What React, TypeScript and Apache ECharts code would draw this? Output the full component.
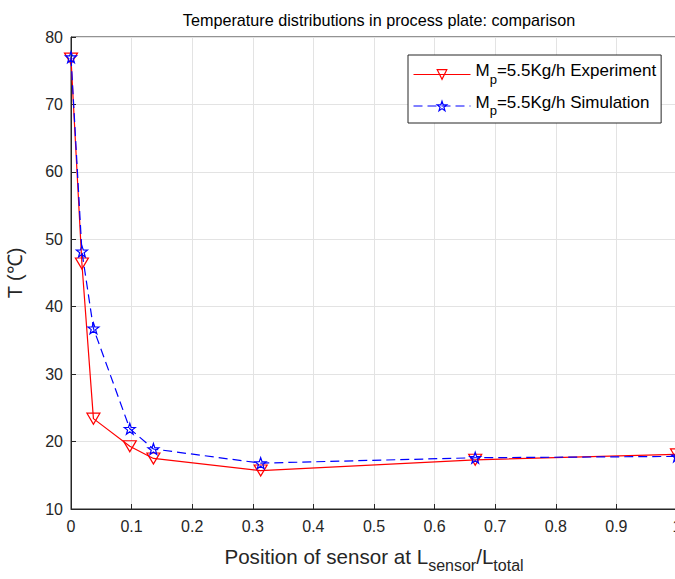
import React, { useEffect, useRef } from "react";
import * as echarts from "echarts";

const positions = [0, 0.018, 0.037, 0.097, 0.136, 0.313, 0.667, 1];
const experiment = [76.8, 46.4, 23.4, 19.3, 17.5, 15.7, 17.3, 18.1];
const simulation = [77.0, 48.2, 36.8, 21.9, 18.9, 16.8, 17.6, 17.8];
const seriesNames = ["Experiment", "Simulation"];
const titleText = "Temperature distributions in process plate: comparison";

const STAR =
  "path://M0,-10L2.35,-3.24L9.51,-3.09L3.8,1.24L5.88,8.09L0,4L-5.88,8.09L-3.8,1.24L-9.51,-3.09L-2.35,-3.24Z";

const FONT = "Liberation Sans, Arial, Helvetica, sans-serif";
const AX = "#262626";
const HOLLOW = "rgba(255,255,255,0)";

export default function App() {
  const ref = useRef<HTMLDivElement>(null);
  useEffect(() => {
    if (!ref.current) return;
    const chart = echarts.init(ref.current, undefined, { renderer: "svg" });
    const expData = positions.map((x, i) => [x, experiment[i]]);
    const simData = positions.map((x, i) => [x, simulation[i]]);
    chart.setOption({
      animation: false,
      backgroundColor: "#fff",
      textStyle: { fontFamily: FONT },
      title: {
        text: titleText,
        left: 374,
        textAlign: "center",
        top: 7,
        textStyle: { fontFamily: FONT, fontSize: 16.2, fontWeight: "normal", color: "#000" },
      },
      grid: {
        left: 71,
        top: 37,
        right: 13,
        bottom: 70,
        show: true,
        borderColor: AX,
        borderWidth: 1,
        backgroundColor: "transparent",
        containLabel: false,
        outerBoundsMode: "none",
      },
      legend: {
        orient: "vertical",
        left: 408,
        top: 55,
        backgroundColor: "#fff",
        borderColor: AX,
        borderWidth: 1,
        borderRadius: 0,
        padding: [7, 5, 6, 5],
        itemWidth: 57,
        itemHeight: 12,
        itemGap: 8,
        data: [
          {
            name: seriesNames[0],
            itemStyle: { color: HOLLOW, borderColor: "#ff0000", borderWidth: 1.2 },
            lineStyle: { color: "#ff0000", width: 1 },
          },
          {
            name: seriesNames[1],
            itemStyle: { color: HOLLOW, borderColor: "#0000ff", borderWidth: 1.2 },
            lineStyle: { color: "#0000ff", width: 1, type: [9, 5] },
          },
        ],
        formatter: (name: string) => `{a|M}{s|p}{a|=5.5Kg/h ${name}}`,
        textStyle: {
          fontFamily: FONT,
          color: "#000",
          rich: {
            a: { fontSize: 17, fontFamily: FONT, color: "#000", padding: [0, 0, 8, 0] },
            s: { fontSize: 13, fontFamily: FONT, color: "#000", padding: [9, 0, 0, 0] },
          },
        },
      },
      xAxis: {
        type: "value",
        min: 0,
        max: 1,
        interval: 0.1,
        name: "{a|Position of sensor at L}{s|sensor}{a|/L}{s|total}",
        nameLocation: "middle",
        nameGap: 37,
        nameTextStyle: {
          rich: {
            a: { fontSize: 20.6, fontFamily: FONT, color: AX, padding: [0, 0, 8, 0] },
            s: { fontSize: 16, fontFamily: FONT, color: AX, padding: [10, 0, 0, 0] },
          },
        },
        axisLine: { show: true, lineStyle: { color: AX, width: 1 } },
        axisTick: { show: true, inside: true, length: 5, lineStyle: { color: AX } },
        axisLabel: {
          color: AX,
          fontSize: 16,
          fontFamily: FONT,
          margin: 9,
          formatter: (v: number) => String(parseFloat(v.toFixed(1))),
        },
        splitLine: { show: true, lineStyle: { color: "#e3e3e3", width: 1 } },
      },
      yAxis: {
        type: "value",
        min: 10,
        max: 80,
        interval: 10,
        name: "T (℃)",
        nameLocation: "middle",
        nameGap: 46,
        nameTextStyle: { fontSize: 20, fontFamily: FONT, color: AX },
        axisLine: { show: true, lineStyle: { color: AX, width: 1 } },
        axisTick: { show: true, inside: true, length: 5, lineStyle: { color: AX } },
        axisLabel: { color: AX, fontSize: 16, fontFamily: FONT, margin: 8 },
        splitLine: { show: true, lineStyle: { color: "#e3e3e3", width: 1 } },
      },
      series: [
        {
          name: seriesNames[0],
          type: "line",
          data: expData,
          symbol: "triangle",
          symbolRotate: 180,
          symbolSize: [13, 11],
          showAllSymbol: true,
          clip: false,
          lineStyle: { color: "#ff0000", width: 1.2 },
          itemStyle: { color: HOLLOW, borderColor: "#ff0000", borderWidth: 1.2, opacity: 1 },
          z: 2,
        },
        {
          name: seriesNames[1],
          type: "line",
          data: simData,
          symbol: STAR,
          symbolSize: 11,
          showAllSymbol: true,
          clip: false,
          lineStyle: { color: "#0000ff", width: 1.2, type: [9, 5] },
          itemStyle: { color: HOLLOW, borderColor: "#0000ff", borderWidth: 1.2 },
          z: 3,
        },
      ],
    });
    return () => chart.dispose();
  }, []);
  return (
    <div
      style={{
        position: "fixed",
        left: 0,
        top: 0,
        width: 675,
        height: 579,
        overflow: "hidden",
        background: "#fff",
      }}
    >
      <div ref={ref} style={{ width: 690, height: 579 }} />
    </div>
  );
}
